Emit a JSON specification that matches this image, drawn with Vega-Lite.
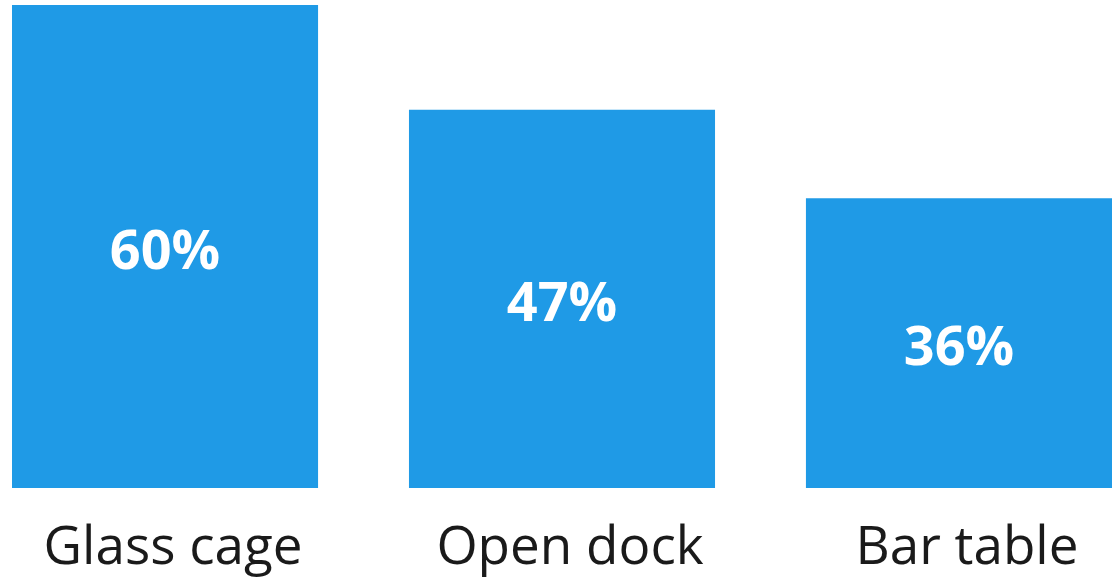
{
  "$schema": "https://vega.github.io/schema/vega-lite/v6.json",
  "autosize": "none",
  "width": 1100,
  "height": 483,
  "padding": {"left": 12, "top": 5, "right": 2, "bottom": 92},
  "background": "white",
  "config": {"view": {"stroke": null}},
  "data": {
    "values": [
      {"category": "Glass cage", "value": 60, "label": "60%"},
      {"category": "Open dock", "value": 47, "label": "47%"},
      {"category": "Bar table", "value": 36, "label": "36%"}
    ]
  },
  "encoding": {
    "x": {
      "field": "category",
      "type": "nominal",
      "sort": null,
      "scale": {"paddingInner": 0.229, "paddingOuter": 0},
      "axis": {
        "title": null,
        "domain": false,
        "ticks": false,
        "labelAngle": 0,
        "labelFont": "Open Sans",
        "labelFontSize": 53,
        "labelColor": "#1a1a1a",
        "labelBaseline": "alphabetic",
        "labelPadding": 75,
        "labelLimit": 0,
        "labelOffset": 8,
        "labelOverlap": false
      }
    }
  },
  "layer": [
    {
      "mark": {"type": "bar", "color": "#1F9AE6"},
      "encoding": {
        "y": {"field": "value", "type": "quantitative", "scale": {"domain": [0, 60]}, "axis": null}
      }
    },
    {
      "mark": {"type": "text", "color": "white", "font": "Open Sans", "fontWeight": "bold", "fontSize": 54, "baseline": "middle", "dy": 6},
      "encoding": {
        "y": {"field": "value", "type": "quantitative", "scale": {"domain": [0, 120]}, "axis": null},
        "text": {"field": "label"}
      }
    }
  ],
  "resolve": {"scale": {"y": "independent"}}
}
